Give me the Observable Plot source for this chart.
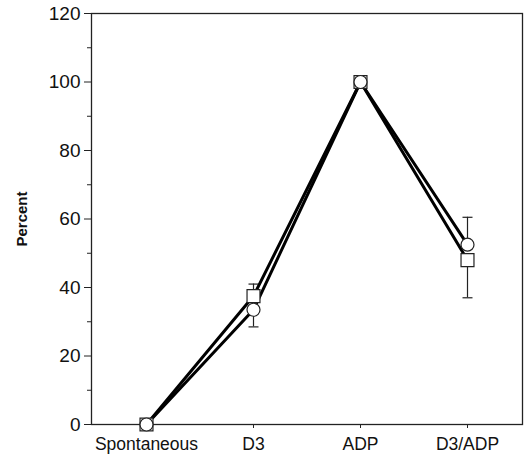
<!DOCTYPE html>
<html><head><meta charset="utf-8">
<script src="https://cdn.jsdelivr.net/npm/d3@7"></script>
<script src="https://cdn.jsdelivr.net/npm/@observablehq/plot@0.6"></script>
<style>
body{margin:0;background:#fff;}
svg{font-family:"Liberation Sans",Arial,sans-serif;}
</style>
</head><body><div id="chart"></div>
<script>
const categories = ["Spontaneous", "D3", "ADP", "D3/ADP"];
const squareValues = [0, 37.5, 100, 48];
const squareErrUp = [0, 3.5, 0, 0];
const squareErrDown = [0, 0, 0, 11];
const circleValues = [0, 33.5, 100, 52.5];
const circleErrUp = [0, 0, 0, 8];
const circleErrDown = [0, 5, 0, 0];
const majorTicks = [0, 20, 40, 60, 80, 100, 120];
const minorTicks = [10, 30, 50, 70, 90, 110];

const rows = [];
categories.forEach((c, i) => {
  rows.push({cat: c, series: "square", v: squareValues[i], up: squareErrUp[i], down: squareErrDown[i]});
  rows.push({cat: c, series: "circle", v: circleValues[i], up: circleErrUp[i], down: circleErrDown[i]});
});
const errRows = [];
rows.forEach(d => {
  if (d.up > 0) errRows.push({cat: d.cat, from: d.v, to: d.v + d.up});
  if (d.down > 0) errRows.push({cat: d.cat, from: d.v, to: d.v - d.down});
});
const cap = {draw(ctx){ ctx.moveTo(-5, 0); ctx.lineTo(5, 0); }};

const chart = Plot.plot({
  width: 525, height: 457,
  marginLeft: 91, marginRight: 3, marginTop: 13, marginBottom: 33,
  x: {type: "point", domain: categories, padding: 0.5, label: null},
  y: {domain: [0, 120], label: null},
  marks: [
    Plot.frame({stroke: "#222", strokeWidth: 1.3}),
    Plot.axisY({ticks: minorTicks, tickSize: 4, label: null, text: null, stroke: "#222"}),
    Plot.axisY({ticks: majorTicks, tickSize: 7, tickPadding: 4, label: null, fontSize: 19, fill: "#111", stroke: "#222"}),
    Plot.axisY({ticks: [], label: "Percent", labelAnchor: "center", labelOffset: 75, labelArrow: "none", fontSize: 15, fontWeight: "bold", fill: "#111"}),
    Plot.axisX({tickSize: 4, tickPadding: 9, label: null, fontSize: 17.5, fill: "#111", stroke: "#222"}),
    Plot.ruleX(errRows, {x: "cat", y1: "from", y2: "to", stroke: "#222", strokeWidth: 1.2}),
    Plot.dot(errRows, {x: "cat", y: "to", symbol: cap, stroke: "#222", strokeWidth: 1.2}),
    Plot.line(rows, {x: "cat", y: "v", z: "series", stroke: "#000", strokeWidth: 3}),
    Plot.dot(rows.filter(d => d.series === "square"), {x: "cat", y: "v", symbol: "square", r: 7.3, fill: "#fff", stroke: "#222", strokeWidth: 1.2}),
    Plot.dot(rows.filter(d => d.series === "circle"), {x: "cat", y: "v", symbol: "circle", r: 6.5, fill: "#fff", stroke: "#222", strokeWidth: 1.2})
  ]
});
document.getElementById("chart").appendChild(chart);
</script>
</body></html>
